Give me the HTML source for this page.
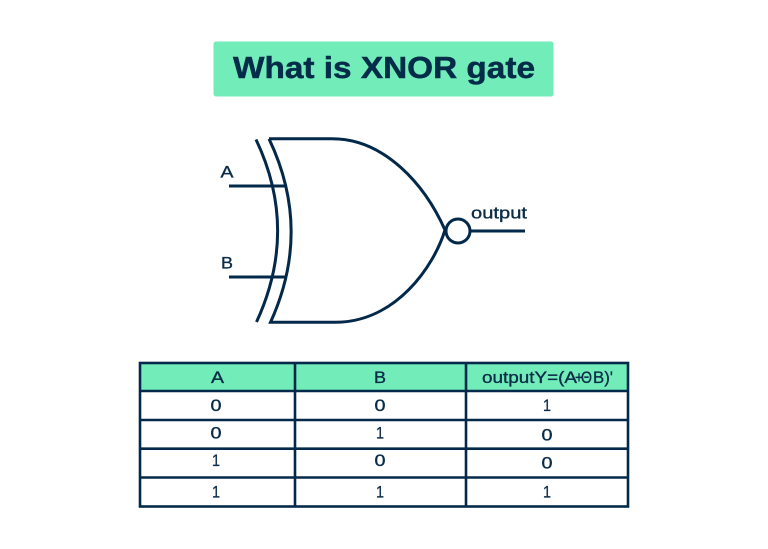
<!DOCTYPE html>
<html><head><meta charset="utf-8"><style>
html,body{margin:0;padding:0;background:#fff}
svg{display:block}
text{font-family:"Liberation Sans",sans-serif;fill:#0a2c48;stroke:#0a2c48;stroke-width:.35px}
.d{font-size:17px;text-anchor:middle}
</style></head><body>
<svg width="768" height="549" viewBox="0 0 768 549" xmlns="http://www.w3.org/2000/svg">
<rect width="768" height="549" fill="#fff"/>
<rect x="213.500" y="41.500" width="340" height="55" rx="2.500" fill="#72edba"/>
<text x="233" y="78" font-size="30.500" font-weight="700" textLength="302" lengthAdjust="spacingAndGlyphs" style="fill:#032c49;stroke:#032c49;stroke-width:.5px">What is XNOR gate</text>
<g fill="none" stroke="#03294a" stroke-width="3">
<path d="M256 139.500Q299 230 256.500 322"/>
<path d="M269 138.800H332C385 138.800 425 185 445 230C434 266 396 322.300 335 322.300H270.500Q312.500 230 269 138.800"/>
<path d="M229 186H287M229 277H287"/>
<circle cx="458" cy="231" r="12"/>
<path d="M470 231H525"/>
</g>
<text x="220.500" y="177.500" font-size="17" textLength="13" lengthAdjust="spacingAndGlyphs">A</text>
<text x="221" y="268.500" font-size="17" textLength="12" lengthAdjust="spacingAndGlyphs">B</text>
<text x="471" y="218.500" font-size="17" textLength="56" lengthAdjust="spacingAndGlyphs">output</text>
<rect x="140" y="363" width="488" height="28" fill="#72edba"/>
<g fill="none" stroke="#03294a" stroke-width="2.600">
<rect x="140" y="363" width="488" height="143.500"/>
<path d="M295 363V506.500M466 363V506.500M140 391H628M140 420H628M140 448.700H628M140 477.500H628"/>
</g>
<text class="d" x="217.500" y="382.800" textLength="13" lengthAdjust="spacingAndGlyphs">A</text>
<text class="d" x="380" y="382.800" textLength="12" lengthAdjust="spacingAndGlyphs">B</text>
<text x="482" y="383" font-size="17" textLength="95" lengthAdjust="spacingAndGlyphs">outputY=(A</text>
<text x="575" y="383" font-size="17" textLength="8" lengthAdjust="spacingAndGlyphs">+</text>
<text x="581" y="383" font-size="17" textLength="11" lengthAdjust="spacingAndGlyphs">Θ</text>
<text x="593" y="383" font-size="17" textLength="20" lengthAdjust="spacingAndGlyphs">B)'</text>
<text class="d" x="216" y="411" textLength="11" lengthAdjust="spacingAndGlyphs">0</text>
<text class="d" x="216" y="438.500" textLength="11" lengthAdjust="spacingAndGlyphs">0</text>
<text class="d" x="216" y="466" textLength="8" lengthAdjust="spacingAndGlyphs">1</text>
<text class="d" x="216" y="497.500" textLength="8" lengthAdjust="spacingAndGlyphs">1</text>
<text class="d" x="380" y="411" textLength="11" lengthAdjust="spacingAndGlyphs">0</text>
<text class="d" x="380" y="438.500" textLength="8" lengthAdjust="spacingAndGlyphs">1</text>
<text class="d" x="380" y="466" textLength="11" lengthAdjust="spacingAndGlyphs">0</text>
<text class="d" x="380" y="497.500" textLength="8" lengthAdjust="spacingAndGlyphs">1</text>
<text class="d" x="547" y="411" textLength="8" lengthAdjust="spacingAndGlyphs">1</text>
<text class="d" x="547" y="440.500" textLength="11" lengthAdjust="spacingAndGlyphs">0</text>
<text class="d" x="547" y="468.500" textLength="11" lengthAdjust="spacingAndGlyphs">0</text>
<text class="d" x="547" y="497.500" textLength="8" lengthAdjust="spacingAndGlyphs">1</text>
</svg>
</body></html>
